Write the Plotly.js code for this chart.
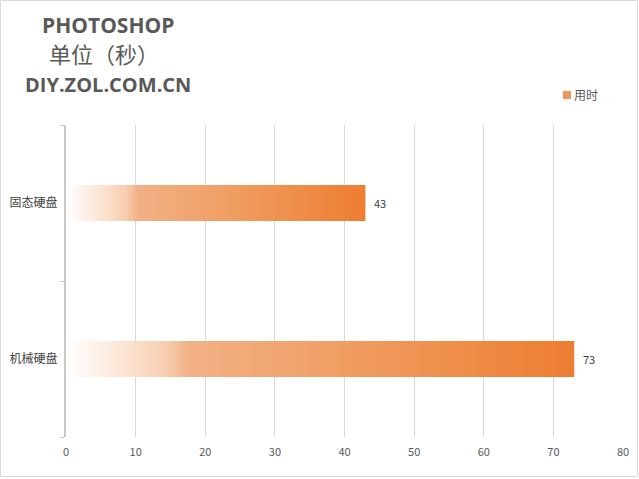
<!DOCTYPE html>
<html><head><meta charset="utf-8">
<script src="https://cdn.plot.ly/plotly-3.0.1.min.js"></script>
<style>html,body{margin:0;padding:0;background:#fff;overflow:hidden;}#chart{width:639px;height:479px;display:block;}</style>
</head><body><div id="chart"></div>
<script>
const categories = ['固态硬盘', '机械硬盘'];
const values = [43, 73];
const seriesName = '用时';
const xTicks = [0, 10, 20, 30, 40, 50, 60, 70, 80];
const titleLines = ['PHOTOSHOP', '单位（秒）', 'DIY.ZOL.COM.CN'];

const FONT = '"Noto Sans CJK SC", "Noto Sans", sans-serif';
const LATIN_BOLD = '"Open Sans", "Noto Sans", sans-serif';
const halfBar = 0.115;
const gradient = [[0, 'rgba(255,255,255,1)'], [0.12, '#FBE3D2'], [0.2, '#F7CDAE'], [0.24, '#F2B186'], [0.6, '#F09A5C'], [1, '#ED7D31']];

// plot-area geometry helpers (pixels -> paper fractions)
const L = 66, R = 16, T = 125, B = 42, W = 639, H = 479;
const pw = W - L - R, ph = H - T - B;
const px = v => (v - L) / pw;
const py = v => (H - B - v) / ph;

const traces = [];
values.forEach((v, i) => {
  traces.push({
    type: 'scatter', mode: 'none', fill: 'toself',
    x: [0, v, v, 0, 0],
    y: [i - halfBar, i - halfBar, i + halfBar, i + halfBar, i - halfBar],
    fillgradient: {type: 'horizontal', colorscale: gradient},
    fillcolor: '#F09A5C',
    name: seriesName, showlegend: false, hoverinfo: 'skip'
  });
});

const annotations = [
  {text: '<b>' + titleLines[0] + '</b>', x: 108, y: 25, size: 21, family: LATIN_BOLD},
  {text: titleLines[1], x: 104, y: 53, size: 22, family: FONT},
  {text: '<b>' + titleLines[2] + '</b>', x: 108, y: 84, size: 20, family: LATIN_BOLD}
].map(a => ({
  text: a.text, xref: 'paper', yref: 'paper',
  x: px(a.x), y: py(a.y),
  xanchor: 'center', yanchor: 'middle', showarrow: false,
  font: {family: a.family, size: a.size, color: '#595959'}
}));

// data labels
values.forEach((v, i) => {
  annotations.push({
    text: String(v), x: v, y: i, xref: 'x', yref: 'y',
    xanchor: 'left', yanchor: 'middle', xshift: 7, showarrow: false,
    font: {family: FONT, size: 11, color: '#404040'}
  });
});

// legend (text + swatch)
annotations.push({
  text: seriesName, xref: 'paper', yref: 'paper', x: px(572), y: py(95),
  xanchor: 'left', yanchor: 'middle', showarrow: false,
  font: {family: FONT, size: 12, color: '#595959'}
});

const layout = {
  width: W, height: H,
  margin: {l: L, r: R, t: T, b: B},
  paper_bgcolor: '#ffffff', plot_bgcolor: '#ffffff',
  font: {family: FONT, color: '#595959'},
  xaxis: {
    range: [0, 80], tickvals: xTicks, ticktext: xTicks.map(String),
    showgrid: true, gridcolor: '#D9D9D9', gridwidth: 1,
    zeroline: false, showline: false, ticks: '',
    tickfont: {family: FONT, size: 11, color: '#595959'}, ticklabelstandoff: 7
  },
  yaxis: {
    range: [1.5, -0.5], tickvals: categories.map((c, i) => i), ticktext: categories,
    showgrid: false, zeroline: false, showline: true, linecolor: '#C8C8C8', linewidth: 2,
    ticks: '', tickfont: {family: FONT, size: 12, color: '#404040'}, ticklabelstandoff: 4,
    minor: {tickvals: [-0.5, 0.5, 1.5], ticks: 'outside', ticklen: 4, tickcolor: '#C8C8C8', showgrid: false}
  },
  showlegend: false,
  annotations: annotations,
  shapes: [
    {type: 'rect', xref: 'paper', yref: 'paper',
      x0: px(563), x1: px(571), y0: py(99), y1: py(91),
      line: {width: 0}, fillcolor: '#F0955A'},
    {type: 'rect', xref: 'paper', yref: 'paper',
      x0: px(0.5), x1: px(637.5), y0: py(476.5), y1: py(0.5),
      line: {color: '#D9D9D9', width: 1}, fillcolor: 'rgba(0,0,0,0)', layer: 'below'}
  ]
};

Plotly.newPlot('chart', traces, layout, {displayModeBar: false, staticPlot: true});
</script></body></html>
